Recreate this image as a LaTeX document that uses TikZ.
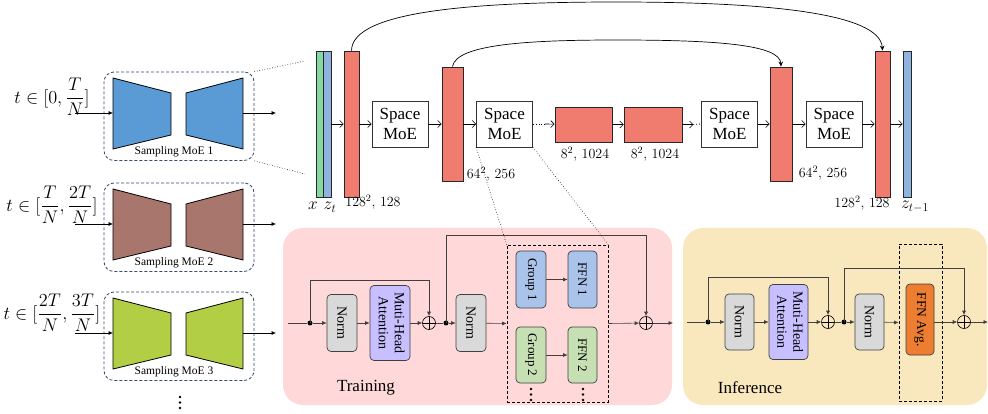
\RequirePackage{fix-cm}
\documentclass[tikz,border=0pt]{standalone}
\usepackage[no-math]{fontspec}
\usepackage{amsmath}
\usepackage{graphicx}
\setmainfont{Liberation Serif}
\usetikzlibrary{arrows.meta,calc}
\definecolor{sblue}{HTML}{5B9BD5}
\definecolor{sbrown}{HTML}{A9766E}
\definecolor{sgreen}{HTML}{B2CE45}
\definecolor{navy}{HTML}{3A4A6A}
\definecolor{ugreen}{HTML}{84D9A2}
\definecolor{ublue}{HTML}{8EB3DE}
\definecolor{ured}{HTML}{F07C6F}
\definecolor{pinkbg}{HTML}{FFD9D9}
\definecolor{yelbg}{HTML}{F9E8BD}
\definecolor{normg}{HTML}{D9D9D9}
\definecolor{lav}{HTML}{C7BFFF}
\definecolor{gblue}{HTML}{A9C3EA}
\definecolor{ggreen}{HTML}{C6E0B4}
\definecolor{orng}{HTML}{ED7D31}
\begin{document}
\begin{tikzpicture}[x=1pt,y=-1pt,
 sz/.style 2 args={minimum width=#1pt,minimum height=#2pt},
 bar/.style={draw=black!85,line width=0.8pt,inner sep=0pt},
 smoe/.style={draw=black!80,line width=0.8pt,fill=white,inner sep=0pt,align=center,font=\fontsize{17}{20}\selectfont,minimum width=56pt,minimum height=46pt},
 ua/.style={-{Straight Barb[length=3.5pt,width=7pt]},line width=0.6pt},
 lbl/.style={font=\fontsize{14}{16}\selectfont,inner sep=0pt},
 blk/.style={draw=black!75,line width=0.7pt,rounded corners=4pt,inner sep=0pt,align=center},
 ba/.style={-{Latex[length=4.5pt,width=4pt]},line width=0.6pt,draw=black!75},
 ln/.style={line width=0.6pt,draw=black!75},
 dotn/.style={circle,fill=black,inner sep=0pt,minimum size=5pt},
 plusn/.style={circle,draw=black,line width=0.6pt,minimum size=13pt,inner sep=0pt,
   path picture={\draw[line width=0.6pt] (path picture bounding box.north) -- (path picture bounding box.south) (path picture bounding box.west) -- (path picture bounding box.east);}},
 sampbox/.style={draw=navy,line width=0.8pt,dash pattern=on 3pt off 2pt,rounded corners=10pt,minimum width=150pt,minimum height=88.5pt,inner sep=0pt},
 panel/.style={rounded corners=20pt,inner sep=0pt},
 dbx/.style={draw=black,line width=0.7pt,dash pattern=on 3pt off 2pt,inner sep=0pt},
 tl/.style={font=\fontsize{14.4}{17}\selectfont,inner sep=0pt},
 vl/.style={font=\fontsize{17.28}{20}\selectfont,inner sep=0pt},
 nrm/.style={blk,fill=normg,font=\fontsize{14}{16}\selectfont},
 gf/.style={blk,font=\fontsize{13}{15}\selectfont},
]
\useasboundingbox (0,0) rectangle (988,414);

% ---------------- sampling MoE boxes ----------------
\foreach \i/\y/\c in {1/72/sblue,2/183/sbrown,3/292/sgreen}{
  \node[sampbox] (sb\i) at (179,\y+44.25) {};
  \filldraw[fill=\c,draw=black,line width=0.8pt] (113,\y+6) -- (171,\y+21) -- (171,\y+63) -- (113,\y+77) -- cycle;
  \filldraw[fill=\c,draw=black,line width=0.8pt] (186,\y+21) -- (243,\y+6) -- (243,\y+77) -- (186,\y+63) -- cycle;
  \node[font=\fontsize{11.5}{13}\selectfont,inner sep=0pt] (sl\i) at (174,\y+80) {Sampling MoE \i};
  \coordinate (si\i) at (75,\y+41);
  \coordinate (tl\i) at (113,\y+41);
  \coordinate (tr\i) at (243,\y+41);
  \coordinate (so\i) at (276,\y+41);
  \draw[ba,draw=black] (si\i) -- (tl\i);
  \draw[ba,draw=black] (tr\i) -- (so\i);
}
\node[tl] (t1) at (52,97) {\scalebox{1.27}{$t\in[0,\dfrac{T}{N}]$}};
\node[tl] (t2) at (52,205) {\scalebox{1.27}{$t\in[\dfrac{T}{N},\dfrac{2T}{N}]$}};
\node[tl] (t3) at (52,313) {\scalebox{1.27}{$t\in[\dfrac{2T}{N},\dfrac{3T}{N}]$}};
\foreach \yy in {397,402.5,408} \fill (180,\yy) circle (1.4pt);

% ---------------- panels ----------------
\node[panel,fill=pinkbg,sz={389}{177}] (tp) at (477.5,316.5) {};
\node[panel,fill=yelbg,sz={304}{177}] (ip) at (835,316.5) {};

% ---------------- U-Net ----------------
\node[bar,fill=ugreen,sz={7}{146}] (g) at (319.5,124) {};
\node[bar,fill=ublue,sz={8}{146}] (bz) at (327,124) {};
\node[bar,fill=ured,sz={15}{146}] (r1) at (351.5,124) {};
\node[smoe] (sm1) at (400,124) {Space\\MoE};
\node[bar,fill=ured,sz={21}{114}] (r2) at (452.5,124) {};
\node[smoe] (sm2) at (504.5,124) {Space\\MoE};
\node[bar,fill=ured,sz={57}{35}] (r3) at (583.5,124.5) {};
\node[bar,fill=ured,sz={58}{35}] (r4) at (653,124.5) {};
\node[smoe] (sm3) at (729.5,124) {Space\\MoE};
\node[bar,fill=ured,sz={22}{114}] (r5) at (781,124) {};
\node[smoe] (sm4) at (834,124) {Space\\MoE};
\node[bar,fill=ured,sz={15}{146}] (r6) at (882.5,124) {};
\node[bar,fill=ublue,sz={8}{146}] (bz2) at (907,124) {};

\node[vl] (lx) at (313,206) {$x$};
\node[vl] (lz) at (330,207) {$z_t$};
\node[vl] (lz2) at (915,207) {$z_{t-1}$};
\node[lbl] (l1) at (373,202) {$128^2,\,128$};
\node[lbl] (l2) at (491,174) {$64^2,\,256$};
\node[lbl] (l3) at (585,154) {$8^2,\,1024$};
\node[lbl] (l4) at (655,154) {$8^2,\,1024$};
\node[lbl] (l5) at (823,173) {$64^2,\,256$};
\node[lbl] (l6) at (862,203) {$128^2,\,128$};

\draw[ua] (bz) -- (r1);
\draw[ua] (r1) -- (sm1);
\draw[ua] (sm1) -- (r2);
\draw[ua] (r2) -- (sm2);
\draw[line width=0.8pt,dotted] (sm2.east) -- ++(12,0) coordinate (q1);
\draw[ua] (q1) -- (r3);
\draw[ua] (r3) -- (r4);
\draw[ua] (r4.east) -- ++(11,0) coordinate (q2);
\draw[line width=0.8pt,dotted] (q2) -- (sm3.west);
\draw[ua] (sm3) -- (r5);
\draw[ua] (r5) -- (sm4);
\draw[ua] (sm4) -- (r6);
\draw[ua] (r6) -- (bz2);

\draw[line width=0.7pt,-{Stealth[length=5pt,width=4.5pt]}] (r1.north) .. controls (352,10) and (480,2) .. (617,2) .. controls (760,2) and (880,12) .. (r6.north);
\draw[line width=0.7pt,-{Stealth[length=5pt,width=4.5pt]}] (r2.north) .. controls (456,44) and (530,40) .. (617,40) .. controls (720,40) and (780,45) .. (r5.north);

% dotted zoom lines from sampling box 1
\coordinate (zt) at (305,61);
\coordinate (zb) at (305,174);
\draw[dotted,line width=0.6pt] (sb1.north east) -- (zt);
\draw[dotted,line width=0.6pt] (sb1.south east) -- (zb);

% ---------------- Training ----------------
\node[dbx,sz={101}{157}] (dbox) at (557.5,323.5) {};
\coordinate (tin) at (288,323);
\node[dotn] (d1) at (310,323) {};
\node[nrm,sz={30}{57}] (n1) at (342,323) {\rotatebox{-90}{Norm}};
\node[blk,fill=lav,sz={40}{75},font=\fontsize{14}{16}\selectfont] (mha1) at (390,323) {\rotatebox{-90}{\begin{tabular}{@{}c@{}}Muti-Head\\Attention\end{tabular}}};
\node[plusn] (p1) at (429,323) {};
\node[dotn] (d2) at (446,323) {};
\node[nrm,sz={30}{57}] (n2) at (471,323) {\rotatebox{-90}{Norm}};
\node[gf,fill=gblue,sz={30}{57}] (g1) at (531,279.5) {\rotatebox{-90}{Group 1}};
\node[gf,fill=gblue,sz={29}{57}] (f1) at (582.5,279.5) {\rotatebox{-90}{FFN 1}};
\node[gf,fill=ggreen,sz={30}{56}] (g2) at (531,355) {\rotatebox{-90}{Group 2}};
\node[gf,fill=ggreen,sz={29}{56}] (f2) at (582.5,355) {\rotatebox{-90}{FFN 2}};
\foreach \yy in {389,394.5,400} {\fill (531,\yy) circle (1.3pt); \fill (583,\yy) circle (1.3pt);}
\node[plusn] (p2) at (646,323) {};
\coordinate (tout) at (673,323);
\node[font=\fontsize{17}{20}\selectfont,inner sep=0pt] (trl) at (366,388) {Training};

\draw[ln] (tin) -- (d1);
\draw[ba] (d1) -- (n1);
\draw[ba] (n1) -- (mha1);
\draw[ba] (mha1) -- (p1);
\draw[ba] (d1.center) -- ++(0,-43) -| (p1.north);
\draw[ln] (p1) -- (d2);
\draw[ba] (d2) -- (n2);
\draw[ba] (d2.center) -- ++(0,-88) -| (p2.north);
\draw[ba] (n2) -- (dbox.west);
\draw[ba] (g1) -- (f1);
\draw[ba] (g2) -- (f2);
\draw[ba] (dbox.east) -- (p2);
\draw[ba] (p2) -- (tout);

% dotted zoom lines from Space MoE 2
\draw[dotted,line width=0.6pt] (sm2.south west) -- (dbox.north west);
\draw[dotted,line width=0.6pt] (sm2.south east) -- (dbox.north east);

% ---------------- Inference ----------------
\node[dbx,sz={43}{157}] (dbox2) at (920.5,322.5) {};
\coordinate (iin) at (687,322);
\node[dotn] (d3) at (708,322) {};
\node[nrm,sz={29}{56}] (n3) at (739.5,322) {\rotatebox{-90}{Norm}};
\node[blk,fill=lav,sz={39}{75},font=\fontsize{14}{16}\selectfont] (mha2) at (788.5,322) {\rotatebox{-90}{\begin{tabular}{@{}c@{}}Muti-Head\\Attention\end{tabular}}};
\node[plusn] (p3) at (828,322) {};
\node[dotn] (d4) at (844,322) {};
\node[nrm,sz={29}{56}] (n4) at (869.5,322) {\rotatebox{-90}{Norm}};
\node[blk,fill=orng,sz={28}{71},font=\fontsize{13.5}{15}\selectfont] (ffn) at (920,319.5) {\rotatebox{-90}{FFN Avg.}};
\node[plusn] (p4) at (964,322) {};
\coordinate (iout) at (988,322);
\node[font=\fontsize{17}{20}\selectfont,inner sep=0pt] (inl) at (750,388) {Inference};

\draw[ln] (iin) -- (d3);
\draw[ba] (d3) -- (n3);
\draw[ba] (n3) -- (mha2);
\draw[ba] (mha2) -- (p3);
\draw[ba] (d3.center) -- ++(0,-45) -| (p3.north);
\draw[ln] (p3) -- (d4);
\draw[ba] (d4) -- (n4);
\draw[ba] (d4.center) -- ++(0,-54) -| (p4.north);
\draw[ba] (n4) -- (dbox2.west);
\draw[ba] (ffn.east |- p4) -- (p4);
\draw[ba] (p4) -- (iout);
\end{tikzpicture}
\end{document}
